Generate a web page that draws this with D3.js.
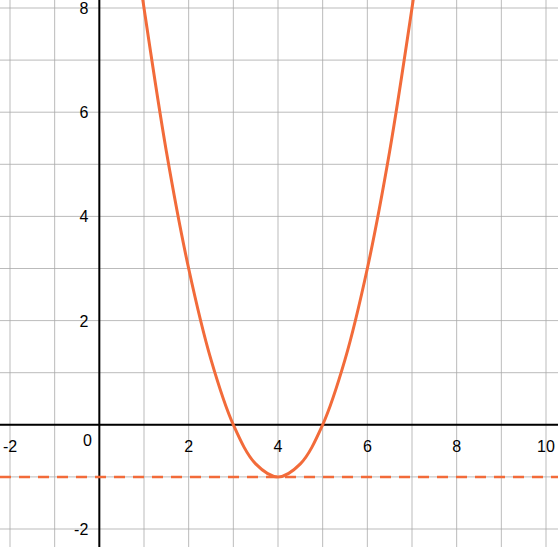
<!DOCTYPE html>
<html lang="en">
  <head>
    <meta charset="UTF-8" />
    <script src="https://d3js.org/d3.v7.min.js"></script>
    <style>
      body { margin: 0; background: #fff; }
      text { font-family: "Liberation Sans", Arial, sans-serif; font-size: 16px; fill: #000; }
    </style>
  </head>
  <body>
    <svg id="chart" width="558" height="547"></svg>
    <script>
      const curveX = [0.9, 1, 1.5, 2, 2.5, 3, 3.5, 4, 4.5, 5, 5.5, 6, 6.5, 7, 7.1];
      const curveY = [8.6, 8, 5.25, 3, 1.25, 0, -0.75, -1, -0.75, 0, 1.25, 3, 5.25, 8, 8.6];
      const dashedY = -1;
      const xTicks = [-2, 2, 4, 6, 8, 10];
      const yTicks = [-2, 2, 4, 6, 8];
      const gridX = d3.range(-2, 11);
      const gridY = d3.range(-2, 9);

      const svg = d3.select("#chart");
      const width = 558, height = 547;
      const x = d3.scaleLinear().domain([-2, 10]).range([10, 546]);
      const y = d3.scaleLinear().domain([-2, 8]).range([529, 8]);

      svg.append("g").selectAll("line").data(gridX).enter().append("line")
        .attr("x1", d => x(d)).attr("x2", d => x(d))
        .attr("y1", 0).attr("y2", height)
        .attr("stroke", "#aaa").attr("stroke-width", 0.8);
      svg.append("g").selectAll("line").data(gridY).enter().append("line")
        .attr("x1", 0).attr("x2", width)
        .attr("y1", d => y(d)).attr("y2", d => y(d))
        .attr("stroke", "#aaa").attr("stroke-width", 0.8);

      // axes
      svg.append("line").attr("x1", 0).attr("x2", width)
        .attr("y1", y(0)).attr("y2", y(0)).attr("stroke", "#000").attr("stroke-width", 2);
      svg.append("line").attr("x1", x(0)).attr("x2", x(0))
        .attr("y1", 0).attr("y2", height).attr("stroke", "#000").attr("stroke-width", 2);

      svg.append("g").selectAll("text").data(xTicks).enter().append("text")
        .attr("x", d => x(d)).attr("y", y(0) + 27)
        .attr("text-anchor", "middle").text(d => d);
      svg.append("text").attr("x", x(0) - 12).attr("y", y(0) + 21)
        .attr("text-anchor", "middle").text("0");
      svg.append("g").selectAll("text").data(yTicks).enter().append("text")
        .attr("x", x(0) - 11).attr("y", d => y(d) + 6)
        .attr("text-anchor", "end").text(d => d);

      // dashed line
      svg.append("line").attr("x1", 0).attr("x2", width)
        .attr("y1", y(dashedY)).attr("y2", y(dashedY))
        .attr("stroke", "#f26b3a").attr("stroke-width", 2.5)
        .attr("stroke-dasharray", "11,8");

      const pts = curveX.map((v, i) => [v, curveY[i]]);
      const line = d3.line().x(d => x(d[0])).y(d => y(d[1])).curve(d3.curveCatmullRom);
      svg.append("path").datum(pts).attr("d", line)
        .attr("fill", "none").attr("stroke", "#f26b3a").attr("stroke-width", 3);
    </script>
  </body>
</html>
